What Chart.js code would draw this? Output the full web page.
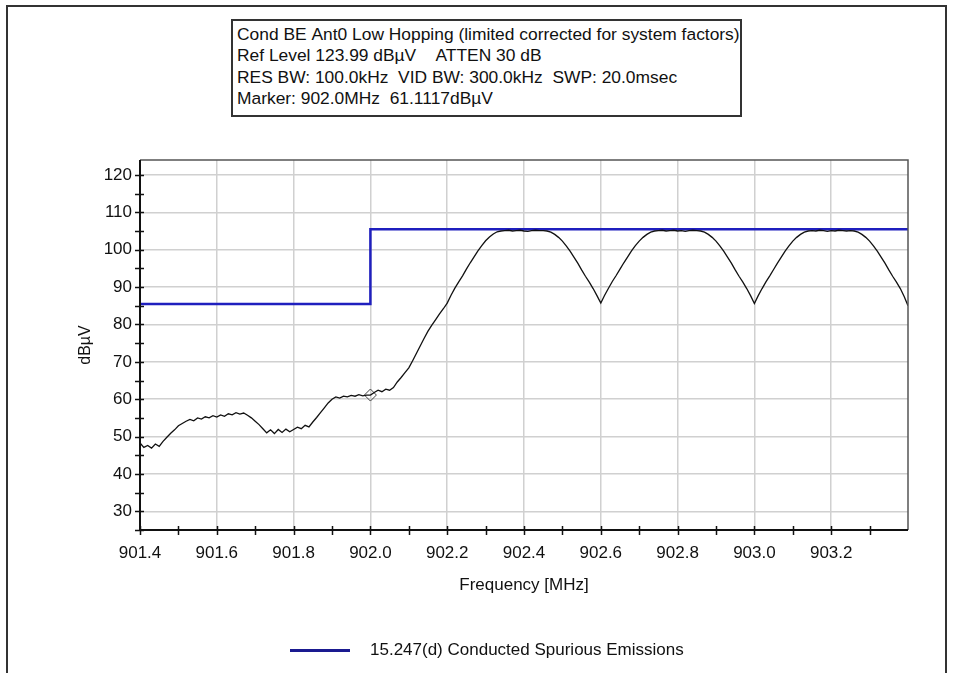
<!DOCTYPE html>
<html>
<head>
<meta charset="utf-8">
<script src="https://cdn.jsdelivr.net/npm/chart.js@4.4.1/dist/chart.umd.min.js"></script>
<style>
  body { margin: 0; background: #fff; }
  #wrap { position: relative; width: 954px; height: 673px; overflow: hidden; font-family: "Liberation Sans", Arial, sans-serif; }
  #chart { position: absolute; left: 0; top: 0; }
  .outer { position: absolute; left: 6px; top: 5px; width: 941px; height: 700px; border: 2px solid #333; box-sizing: border-box; }
  .infobox { position: absolute; left: 231px; top: 19px; width: 511px; height: 98px; border: 2px solid #333; box-sizing: border-box; background: #fff;
    padding: 3px 0 0 4px; font-size: 17.4px; line-height: 21.4px; color: #111; white-space: nowrap; }
  .legend { position: absolute; left: 290px; top: 640px; font-size: 17px; color: #111; white-space: nowrap; }
  .legend .swatch { display: inline-block; width: 60px; height: 3px; background: #1a1a90; vertical-align: middle; margin-right: 20px; }
</style>
</head>
<body>
<div id="wrap">
  <div class="outer"></div>
  <canvas id="chart" width="954" height="673"></canvas>
  <div class="infobox" id="infobox"></div>
  <div class="legend"><span class="swatch"></span><span id="legendText"></span></div>
</div>
<script>
// Header text of the plot
const infoLines = [
    'Cond BE Ant0 Low Hopping (limited corrected for system factors)',
    'Ref Level 123.99 dBµV    ATTEN 30 dB',
    'RES BW: 100.0kHz  VID BW: 300.0kHz  SWP: 20.0msec',
    'Marker: 902.0MHz  61.1117dBµV'
];
const limitName = '15.247(d) Conducted Spurious Emissions';

// Sweep: 901.40 .. 903.40 MHz, one reading each 0.01 MHz
const sweepStartMHz = 901.4;
const sweepStepMHz = 0.01;
const traceLevels = [
    48.3, 47.1, 47.6, 46.9, 48.0, 47.4, 48.7, 49.8, 50.9, 51.8,   // 901.40
    52.9, 53.5, 54.1, 54.6, 54.2, 55.0, 54.7, 55.3, 55.0, 55.6,   // 901.50
    55.2, 55.8, 55.4, 56.1, 55.8, 56.4, 56.0, 56.3, 55.7, 55.0,   // 901.60
    54.1, 53.2, 52.1, 51.0, 51.8, 50.8, 51.9, 51.1, 52.0, 51.3,   // 901.70
    51.9, 52.5, 52.1, 53.0, 52.6, 53.9, 55.1, 56.4, 57.7, 59.0,   // 901.80
    60.0, 60.6, 60.3, 60.8, 60.6, 61.0, 60.8, 61.2, 60.9, 61.1,   // 901.90
    61.1, 61.8, 62.4, 62.0, 62.7, 62.4, 63.1, 64.6, 65.8, 67.1,   // 902.00
    68.4, 70.3, 72.3, 74.3, 76.3, 78.2, 79.8, 81.3, 82.8, 84.2,   // 902.10
    85.7, 87.8, 89.7, 91.4, 93.0, 94.8, 96.5, 98.1, 99.7, 101.1,  // 902.20
    102.4, 103.4, 104.2, 104.8, 105.0, 105.1, 105.2, 105.0, 105.1, 105.2, // 902.30
    105.0, 104.9, 105.1, 105.2, 105.1, 105.1, 105.0, 104.7, 104.1, 103.3, // 902.40
    102.3, 101.0, 99.6, 98.0, 96.4, 94.6, 92.9, 91.3, 89.6, 87.7, // 902.50
    85.7, 87.8, 89.7, 91.5, 93.1, 94.8, 96.5, 98.1, 99.7, 101.1,  // 902.60
    102.3, 103.3, 104.1, 104.7, 105.0, 105.1, 105.2, 105.0, 105.1, 105.2, // 902.70
    105.0, 105.1, 104.9, 105.1, 105.2, 105.1, 105.0, 104.7, 104.1, 103.3, // 902.80
    102.3, 101.0, 99.6, 98.0, 96.4, 94.6, 92.9, 91.3, 89.6, 87.7, // 902.90
    85.6, 87.7, 89.6, 91.4, 93.0, 94.7, 96.4, 98.0, 99.6, 101.0,  // 903.00
    102.3, 103.3, 104.1, 104.7, 105.0, 105.1, 105.0, 105.2, 105.1, 104.9, // 903.10
    105.1, 105.0, 105.2, 105.1, 105.0, 105.1, 105.0, 104.7, 104.1, 103.3, // 903.20
    102.3, 101.0, 99.6, 98.0, 96.4, 94.6, 92.9, 91.3, 89.6, 87.5, // 903.30
    85.0                                                          // 903.40
];

// Limit line (step at 902.0 MHz)
const limitFreqs = [901.4, 902.0, 902.0, 903.4];
const limitLevels = [85.5, 85.5, 105.5, 105.5];

// Marker
const markerFreq = [902.0];
const markerLevel = [61.1117];

// Axes
const xMin = 901.4, xMax = 903.4;
const yMin = 25, yMax = 124;
const xTickValues = [901.4, 901.6, 901.8, 902.0, 902.2, 902.4, 902.6, 902.8, 903.0, 903.2];
const xTickLabels = ['901.4', '901.6', '901.8', '902.0', '902.2', '902.4', '902.6', '902.8', '903.0', '903.2'];
const xMinorTicks = [901.4, 901.5, 901.6, 901.7, 901.8, 901.9, 902.0, 902.1, 902.2, 902.3,
    902.4, 902.5, 902.6, 902.7, 902.8, 902.9, 903.0, 903.1, 903.2, 903.3];
const yTickValues = [30, 40, 50, 60, 70, 80, 90, 100, 110, 120];
const yMinorTicks = [25, 30, 35, 40, 45, 50, 55, 60, 65, 70, 75, 80, 85, 90, 95, 100, 105, 110, 115, 120];

document.getElementById('infobox').innerHTML = infoLines.map(l => l.replace(/ /g, '&nbsp;')).join('<br>');
document.getElementById('legendText').textContent = limitName;

const tracePoints = traceLevels.map((v, i) => ({ x: sweepStartMHz + i * sweepStepMHz, y: v }));
const limitPoints = limitFreqs.map((f, i) => ({ x: f, y: limitLevels[i] }));
const markerPoints = markerFreq.map((f, i) => ({ x: f, y: markerLevel[i] }));

// frame round the plot and the small cross ticks on the axes
const frameTicks = {
    id: 'frameTicks',
    afterDatasetsDraw(chart) {
        const { ctx, chartArea: a, scales } = chart;
        ctx.save();
        ctx.strokeStyle = '#555';
        ctx.lineWidth = 1.5;
        ctx.beginPath();
        ctx.moveTo(a.left, a.top);
        ctx.lineTo(a.right, a.top);
        ctx.lineTo(a.right, a.bottom);
        ctx.stroke();
        ctx.strokeStyle = '#111';
        ctx.lineWidth = 2;
        ctx.beginPath();
        ctx.moveTo(a.left, a.top);
        ctx.lineTo(a.left, a.bottom);
        ctx.lineTo(a.right, a.bottom);
        ctx.stroke();
        ctx.lineWidth = 1.5;
        ctx.beginPath();
        yMinorTicks.forEach(v => {
            const y = Math.round(scales.y.getPixelForValue(v)) + 0.5;
            ctx.moveTo(a.left - 5, y);
            ctx.lineTo(a.left + 4, y);
        });
        xMinorTicks.forEach(v => {
            const x = Math.round(scales.x.getPixelForValue(v)) + 0.5;
            ctx.moveTo(x, a.bottom - 4);
            ctx.lineTo(x, a.bottom + 5);
        });
        ctx.stroke();
        ctx.restore();
    }
};

const canvas = document.getElementById('chart');

new Chart(canvas, {
    type: 'line',
    data: {
        datasets: [
            {
                label: 'Trace',
                data: tracePoints,
                borderColor: '#111',
                borderWidth: 1.3,
                pointRadius: 0,
                tension: 0,
            },
            {
                label: limitName,
                data: limitPoints,
                borderColor: '#1f1fbe',
                borderWidth: 2.5,
                pointRadius: 0,
                tension: 0,
            },
            {
                label: 'Marker',
                data: markerPoints,
                showLine: false,
                pointStyle: 'rectRot',
                pointRadius: 6,
                borderColor: '#444',
                borderWidth: 1,
                backgroundColor: 'rgba(255,255,255,0)',
            },
        ],
    },
    options: {
        responsive: false,
        animation: false,
        layout: { padding: { left: 68, top: 160, right: 46, bottom: 76 } },
        plugins: {
            legend: { display: false },
            tooltip: { enabled: false },
        },
        scales: {
            x: {
                type: 'linear',
                min: xMin,
                max: xMax,
                afterFit: (s) => { s.height = 67; },
                afterBuildTicks: (s) => { s.ticks = xTickValues.map(v => ({ value: v })); },
                ticks: {
                    padding: 13,
                    color: '#111',
                    font: { family: 'Liberation Sans', size: 17 },
                    maxRotation: 0,
                    callback: (v, i) => xTickLabels[i],
                },
                grid: { color: '#d0d0d0', lineWidth: 1.5, drawTicks: false },
                border: { display: false },
                title: {
                    display: true,
                    text: 'Frequency [MHz]',
                    color: '#111',
                    font: { family: 'Liberation Sans', size: 17 },
                    padding: { top: 0, bottom: 1 },
                },
            },
            y: {
                type: 'linear',
                min: yMin,
                max: yMax,
                afterFit: (s) => { s.width = 72; },
                afterBuildTicks: (s) => { s.ticks = yTickValues.map(v => ({ value: v })); },
                ticks: {
                    padding: 8,
                    color: '#111',
                    font: { family: 'Liberation Sans', size: 17 },
                    callback: (v) => String(v),
                },
                grid: { color: '#d0d0d0', lineWidth: 1.5, drawTicks: false },
                border: { display: false },
                title: {
                    display: true,
                    text: 'dBµV',
                    color: '#111',
                    font: { family: 'Liberation Sans', size: 16 },
                    padding: { top: 8, bottom: 0 },
                },
            },
        },
    },
    plugins: [frameTicks],
});
</script>
</body>
</html>
